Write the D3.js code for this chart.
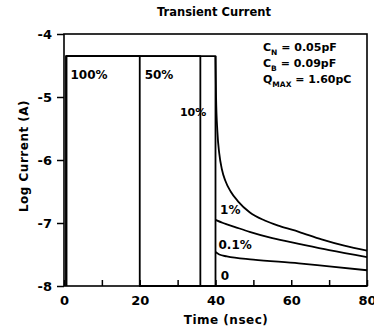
<!DOCTYPE html>
<html>
<head>
<script src="https://d3js.org/d3.v7.min.js"></script>
<style>
  * { margin:0; padding:0; }
  body { background:#fff; }
  text { font-family: "DejaVu Sans", sans-serif; font-weight: bold; fill:#000; }
</style>
</head>
<body>
<div id="chart"></div>
<script>
// tick values
const xTicks = [0, 20, 40, 60, 80];
const xMinorTicks = [10, 30, 50, 70];
const yTicks = [-4, -5, -6, -7, -8];

// pulse plateau level and where each pulse ends
const plateau = -4.35;
const riseTime = 0.6;
const pulseEnds = [20, 36, 40];

// decay curves after t = 40 ns
const decayTimes1 = [40, 40.15, 40.5, 41, 41.7, 42.6, 44, 46, 49, 53, 57, 62, 68, 74, 80];
const decay1 = [-4.35, -5.0, -5.55, -5.9, -6.15, -6.33, -6.5, -6.66, -6.83, -6.96, -7.05, -7.14, -7.26, -7.36, -7.44];
const decayTimes01 = [40, 42, 45, 49, 55, 62, 70, 80];
const decay01 = [-6.95, -7.0, -7.06, -7.14, -7.24, -7.33, -7.43, -7.54];
const decayTimes0 = [40, 41, 43, 50, 62, 70, 80];
const decay0 = [-7.46, -7.5, -7.53, -7.58, -7.64, -7.69, -7.75];

const curveLabels = ["100%", "50%", "10%", "1%", "0.1%", "0"];
const paramLines = [["C", "N", " = 0.05pF"], ["C", "B", " = 0.09pF"], ["Q", "MAX", " = 1.60pC"]];

const width = 374, height = 333;
const margin = {left: 64, right: 7, top: 34, bottom: 47};

const svg = d3.select("#chart").append("svg").attr("width", width).attr("height", height);

const x = d3.scaleLinear().domain([0, 80]).range([margin.left, width - margin.right]);
const y = d3.scaleLinear().domain([-8, -4]).range([height - margin.bottom, margin.top]);

// frame
svg.append("rect")
  .attr("x", x(0)).attr("y", y(-4))
  .attr("width", x(80) - x(0)).attr("height", y(-8) - y(-4))
  .attr("fill", "none").attr("stroke", "#000").attr("stroke-width", 1.6);

// axes
svg.append("g").attr("transform", "translate(0," + y(-8) + ")")
  .call(d3.axisBottom(x).tickValues(xTicks).tickSize(-6).tickPadding(10).tickFormat(d3.format("d")));
svg.append("g").attr("transform", "translate(0," + y(-8) + ")")
  .call(d3.axisBottom(x).tickValues(xMinorTicks).tickSize(-6).tickFormat(""));
svg.append("g").attr("transform", "translate(" + x(0) + ",0)")
  .call(d3.axisLeft(y).tickValues(yTicks).tickSize(7).tickPadding(5).tickFormat(d => "-" + Math.abs(d)));

svg.selectAll(".domain").remove();
svg.selectAll(".tick line").attr("stroke", "#000").attr("stroke-width", 1.5);
svg.selectAll(".tick text").style("font-size", "13px").style("font-family", "DejaVu Sans").style("font-weight", "bold");

// pulses
const line = d3.line().x(d => x(d[0])).y(d => y(d[1]));
const pulses = pulseEnds.map(te => [[riseTime, -8], [riseTime, plateau], [te, plateau], [te, -8], [80, -8]]);
svg.append("g").selectAll("path").data(pulses).join("path")
  .attr("d", line)
  .attr("fill", "none").attr("stroke", "#000").attr("stroke-width", 1.8)
  .attr("stroke-linejoin", "round");

// decays
const smooth = d3.line().x(d => x(d[0])).y(d => y(d[1])).curve(d3.curveMonotoneX);
const decays = [[decayTimes1, decay1], [decayTimes01, decay01], [decayTimes0, decay0]]
  .map(([ts, vs]) => ts.map((t, i) => [t, vs[i]]));
svg.append("g").selectAll("path").data(decays).join("path")
  .attr("d", smooth)
  .attr("fill", "none").attr("stroke", "#000").attr("stroke-width", 1.8);

// curve labels
const labelPos = [[1.7, -4.72], [21.3, -4.72], [30.6, -5.3], [41.2, -6.85], [40.8, -7.42], [41.4, -7.9]];
svg.append("g").selectAll("text").data(curveLabels).join("text")
  .attr("x", (d, i) => x(labelPos[i][0]))
  .attr("y", (d, i) => y(labelPos[i][1]))
  .style("font-size", (d, i) => i === 2 ? "11px" : "12px")
  .text(d => d);

// parameter box
const pg = svg.append("g");
paramLines.forEach((p, i) => {
  const t = pg.append("text").attr("x", 263).attr("y", 51 + i * 16).style("font-size", "11px");
  t.append("tspan").text(p[0]);
  t.append("tspan").attr("dy", 4).style("font-size", "7.5px").text(p[1]);
  t.append("tspan").attr("dy", -4).text(p[2]);
});

// titles
svg.append("text").attr("x", 214).attr("y", 16).attr("text-anchor", "middle")
  .style("font-size", "11.5px").text("Transient Current");
svg.append("text").attr("x", 226).attr("y", 324).attr("text-anchor", "middle")
  .style("font-size", "12px").style("letter-spacing", "0.5px").text("Time (nsec)");
svg.append("text").attr("transform", "translate(28," + 156 + ") rotate(-90)").attr("text-anchor", "middle")
  .style("font-size", "12px").style("letter-spacing", "0.5px").text("Log Current (A)");
</script>
</body>
</html>
